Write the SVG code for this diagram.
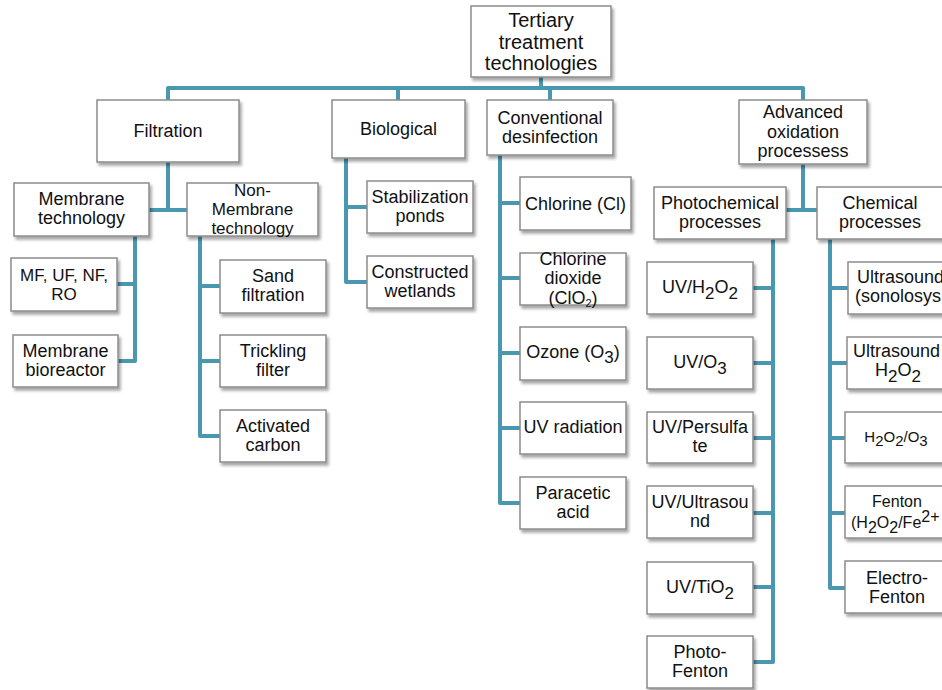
<svg xmlns="http://www.w3.org/2000/svg" width="942" height="690" viewBox="0 0 942 690">
<defs>
<filter id="sh" x="-10%" y="-10%" width="130%" height="140%">
<feDropShadow dx="2" dy="3" stdDeviation="1.8" flood-color="#000" flood-opacity="0.35"/>
</filter>
<style>
.b{fill:#fff;stroke:#8c8c8c;stroke-width:1.5;filter:url(#sh)}
.t{font-family:"Liberation Sans",Arial,sans-serif;font-size:18px;fill:#111;text-anchor:middle}
.s{text-anchor:start}
.c{fill:none;stroke:#4a97b0;stroke-width:4;stroke-linejoin:round}
.sb{font-size:17px}
.ss{font-size:11px}
.n{font-size:17px}
</style>
</defs>
<rect width="942" height="690" fill="#fff"/>
<g id="connectors" class="c">
<path d="M541,77 V88 M168,100 V88 H803 V100 M398,88 V100 M550,88 V100"/>
<path d="M168,162 V210 M148,210 H187"/>
<path d="M135,236 V361 H118 M117,284 H135"/>
<path d="M200,236 V436 H220 M200,286 H220 M200,361 H220"/>
<path d="M346,158 V282 H367 M346,207 H367"/>
<path d="M500,155 V503 H520 M500,203 H520 M500,278 H520 M500,353 H520 M500,428 H520"/>
<path d="M803,164 V210 M786,210 H817"/>
<path d="M773,239 V662 H753 M753,288 H773 M753,363 H773 M753,438 H773 M753,513 H773 M753,587 H773"/>
<path d="M830,239 V588 H845 M830,288 H848 M830,363 H847 M830,438 H845 M830,513 H845"/>
</g>
<g id="root"><rect class="b" x="471" y="6" width="140" height="71"/>
<text class="t" style="font-size:20px" x="541" y="27">Tertiary</text><text class="t" style="font-size:20px" x="541" y="48.5">treatment</text><text class="t" style="font-size:20px" x="541" y="70">technologies</text></g>
<g id="filtration"><rect class="b" x="97" y="100" width="142" height="62"/><text class="t" x="168" y="137">Filtration</text></g>
<g id="biological"><rect class="b" x="332" y="100" width="133" height="58"/><text class="t" x="398.5" y="135">Biological</text></g>
<g id="conventional"><rect class="b" x="487" y="100" width="126" height="55"/><text class="t" x="550" y="124">Conventional</text><text class="t" x="550" y="143">desinfection</text></g>
<g id="aop"><rect class="b" x="739" y="100" width="128" height="64"/><text class="t" x="803" y="118">Advanced</text><text class="t" x="803" y="138">oxidation</text><text class="t" x="803" y="157">processess</text></g>
<g id="membrane"><rect class="b" x="14" y="183" width="135" height="53"/><text class="t" x="81.5" y="205">Membrane</text><text class="t" x="81.5" y="224">technology</text></g>
<g id="nonmembrane"><rect class="b" x="187" y="183" width="131" height="53"/><text class="t n" x="252.5" y="196">Non-</text><text class="t n" x="252.5" y="215">Membrane</text><text class="t n" x="252.5" y="234">technology</text></g>
<g id="mf"><rect class="b" x="11" y="258" width="106" height="53"/><text class="t n" x="64" y="281">MF, UF, NF,</text><text class="t n" x="64" y="300">RO</text></g>
<g id="mbr"><rect class="b" x="13" y="335" width="105" height="52"/><text class="t" x="65.5" y="357">Membrane</text><text class="t" x="65.5" y="376">bioreactor</text></g>
<g id="sand"><rect class="b" x="220" y="260" width="106" height="53"/><text class="t" x="273" y="282">Sand</text><text class="t" x="273" y="301">filtration</text></g>
<g id="trickling"><rect class="b" x="220" y="335" width="106" height="52"/><text class="t" x="273" y="357">Trickling</text><text class="t" x="273" y="376">filter</text></g>
<g id="activated"><rect class="b" x="220" y="410" width="106" height="52"/><text class="t" x="273" y="432">Activated</text><text class="t" x="273" y="451">carbon</text></g>
<g id="stabilization"><rect class="b" x="367" y="181" width="106" height="52"/><text class="t" x="420" y="203">Stabilization</text><text class="t" x="420" y="222">ponds</text></g>
<g id="wetlands"><rect class="b" x="367" y="256" width="106" height="52"/><text class="t" x="420" y="278">Constructed</text><text class="t" x="420" y="297">wetlands</text></g>
<g id="chlorine"><rect class="b" x="520" y="177" width="111" height="53"/><text class="t" x="575.5" y="210">Chlorine (Cl)</text></g>
<g id="clo2"><rect class="b" x="520" y="253" width="106" height="52"/><text class="t" x="573" y="265">Chlorine</text><text class="t" x="573" y="284">dioxide</text><text class="t" x="573" y="304">(ClO<tspan class="ss" dy="3">2</tspan><tspan dy="-3">)</tspan></text></g>
<g id="ozone"><rect class="b" x="520" y="327" width="106" height="53"/><text class="t" x="573" y="358">Ozone (O<tspan class="sb" dy="5">3</tspan><tspan dy="-5">)</tspan></text></g>
<g id="uvrad"><rect class="b" x="520" y="402" width="106" height="52"/><text class="t" x="573" y="433">UV radiation</text></g>
<g id="paracetic"><rect class="b" x="520" y="477" width="106" height="52"/><text class="t" x="573" y="499">Paracetic</text><text class="t" x="573" y="518">acid</text></g>
<g id="photochemical"><rect class="b" x="654" y="187" width="132" height="52"/><text class="t" x="720" y="209">Photochemical</text><text class="t" x="720" y="228">processes</text></g>
<g id="chemical"><rect class="b" x="817" y="187" width="132" height="52"/><text class="t" x="880" y="209">Chemical</text><text class="t" x="880" y="228">processes</text></g>
<g id="uvh2o2"><rect class="b" x="647" y="262" width="106" height="52"/><text class="t" x="700" y="293">UV/H<tspan class="sb" dy="6">2</tspan><tspan dy="-6">O</tspan><tspan class="sb" dy="6">2</tspan></text></g>
<g id="uvo3"><rect class="b" x="647" y="337" width="106" height="52"/><text class="t" x="700" y="368">UV/O<tspan class="sb" dy="6">3</tspan></text></g>
<g id="uvpersulfate"><rect class="b" x="647" y="412" width="106" height="51"/><text class="t" x="700" y="433">UV/Persulfa</text><text class="t" x="700" y="452">te</text></g>
<g id="uvultrasound"><rect class="b" x="647" y="486" width="106" height="52"/><text class="t" x="700" y="508">UV/Ultrasou</text><text class="t" x="700" y="527">nd</text></g>
<g id="uvtio2"><rect class="b" x="647" y="562" width="106" height="52"/><text class="t" x="700" y="593">UV/TiO<tspan class="sb" dy="6">2</tspan></text></g>
<g id="photofenton"><rect class="b" x="647" y="636" width="106" height="52"/><text class="t" x="700" y="658">Photo-</text><text class="t" x="700" y="677">Fenton</text></g>
<g id="sonolysis"><rect class="b" x="848" y="262" width="106" height="52"/><text class="t s" x="857" y="283">Ultrasound</text><text class="t s" x="855" y="302">(sonolosys</text></g>
<g id="ush2o2"><rect class="b" x="847" y="337" width="106" height="52"/><text class="t s" x="853" y="357">Ultrasound</text><text class="t" x="898" y="376">H<tspan class="sb" dy="6">2</tspan><tspan dy="-6">O</tspan><tspan class="sb" dy="6">2</tspan></text></g>
<g id="h2o2o3"><rect class="b" x="845" y="412" width="106" height="51"/><text class="t" style="font-size:15px" x="896" y="442">H<tspan dy="4">2</tspan><tspan dy="-4">O</tspan><tspan dy="4">2</tspan><tspan dy="-4">/O</tspan><tspan dy="4">3</tspan></text></g>
<g id="fenton"><rect class="b" x="845" y="486" width="106" height="52"/><text class="t" style="font-size:16px" x="897" y="507">Fenton</text><text class="t s" style="font-size:16px" x="851" y="528">(H<tspan dy="5">2</tspan><tspan dy="-5">O</tspan><tspan dy="5">2</tspan><tspan dy="-5">/Fe</tspan><tspan dy="-6">2+</tspan></text></g>
<g id="electrofenton"><rect class="b" x="845" y="561" width="106" height="52"/><text class="t" x="897" y="584">Electro-</text><text class="t" x="897" y="603">Fenton</text></g>
</svg>
